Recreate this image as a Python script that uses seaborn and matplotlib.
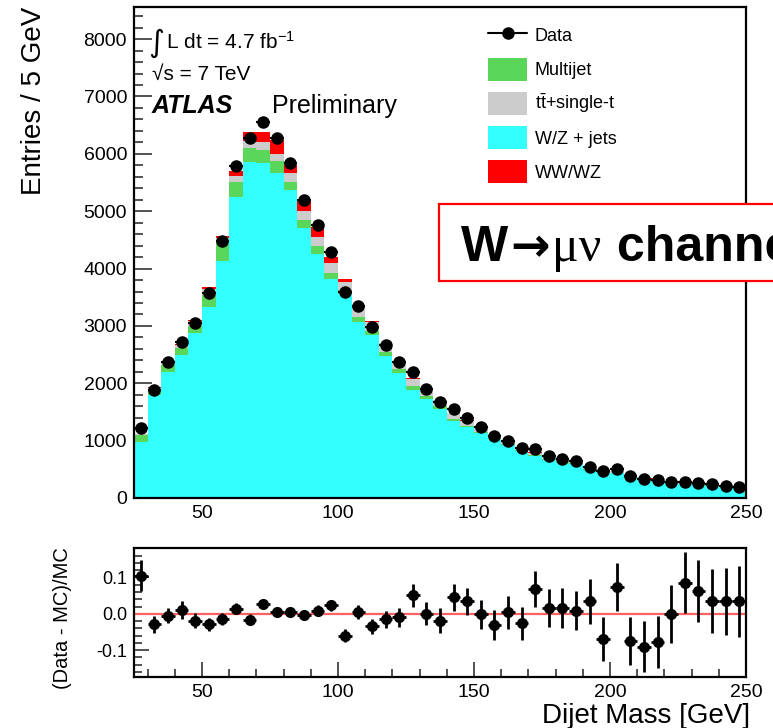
import numpy as np
import pandas as pd
import matplotlib
matplotlib.use("Agg")
import matplotlib.pyplot as plt
import seaborn as sns
from matplotlib.lines import Line2D
from matplotlib.patches import Patch, Rectangle
from matplotlib.ticker import MultipleLocator, FormatStrFormatter

# ---------------- data ----------------
bin_centers = np.arange(27.5, 250, 5)

data_counts = [1220, 1880, 2370, 2720, 3050, 3570, 4480, 5780, 6270, 6550,
               6270, 5840, 5190, 4760, 4290, 3590, 3340, 2980, 2670, 2370,
               2200, 1900, 1680, 1550, 1400, 1230, 1085, 1000, 870, 850,
               730, 675, 645, 545, 476, 500, 385, 330, 315, 285,
               285, 267, 240, 210, 197]

wz_jets = [980, 1790, 2200, 2490, 2880, 3330, 4135, 5240, 5850, 5840,
           5670, 5370, 4700, 4260, 3810, 3560, 3070, 2840, 2474, 2175,
           1885, 1720, 1560, 1345, 1230, 1130, 1030, 920, 825, 735,
           665, 615, 593, 490, 475, 433, 387, 338, 317, 265,
           245, 234, 216, 189, 177]

multijet = [118, 95, 115, 120, 120, 210, 330, 270, 250, 220,
            210, 145, 140, 130, 115, 60, 80, 75, 76, 70,
            65, 60, 45, 35, 30, 25, 22, 18, 18, 16,
            14, 12, 12, 10, 10, 9, 8, 7, 7, 6,
            5, 5, 5, 4, 4]

top_single = [10, 40, 50, 60, 80, 100, 70, 110, 125, 140,
              125, 150, 165, 160, 165, 150, 160, 155, 145, 130,
              130, 110, 95, 95, 85, 68, 60, 52, 45, 40,
              35, 33, 30, 24, 23, 21, 19, 16, 15, 12,
              11, 10, 9, 8, 7]

diboson = [2, 10, 15, 20, 30, 40, 30, 80, 150, 180,
           240, 140, 200, 170, 105, 55, 15, 18, 15, 20,
           13, 10, 12, 8, 9, 8, 8, 6, 5, 4,
           4, 4, 4, 3, 3, 3, 2, 2, 2, 2,
           2, 2, 2, 2, 2]

ratio = [0.105, -0.029, -0.005, 0.011, -0.019, -0.029, -0.014, 0.014, -0.017, 0.027,
         0.004, 0.006, -0.003, 0.008, 0.023, -0.061, 0.005, -0.035, -0.015, -0.010,
         0.051, 0.000, -0.019, 0.045, 0.034, -0.001, -0.031, 0.004, -0.026, 0.069,
         0.016, 0.016, 0.009, 0.034, -0.069, 0.074, -0.074, -0.091, -0.077, 0.000,
         0.085, 0.062, 0.036, 0.034, 0.034]

ratio_err = [0.042, 0.023, 0.020, 0.025, 0.020, 0.018, 0.017, 0.016, 0.015, 0.012,
             0.014, 0.012, 0.014, 0.015, 0.016, 0.018, 0.020, 0.020, 0.024, 0.026,
             0.031, 0.032, 0.034, 0.037, 0.038, 0.040, 0.041, 0.045, 0.046, 0.050,
             0.052, 0.055, 0.054, 0.061, 0.061, 0.066, 0.066, 0.070, 0.072, 0.080,
             0.084, 0.085, 0.088, 0.093, 0.097]

process_names = ["WW/WZ", "ttbar+single-t", "Multijet", "W/Z + jets"]  # top -> bottom
process_values = [diboson, top_single, multijet, wz_jets]
process_colors = {"WW/WZ": "#ff0000", "ttbar+single-t": "#cccccc",
                  "Multijet": "#5ad65a", "W/Z + jets": "#33ffff"}

df = pd.DataFrame({
    "mass": np.tile(bin_centers, len(process_names)),
    "weight": np.concatenate([np.asarray(v, float) for v in process_values]),
    "process": np.repeat(process_names, len(bin_centers)),
})

# ---------------- style ----------------
sns.set_style("ticks")
plt.rcParams["font.family"] = ["Liberation Sans", "DejaVu Sans"]
plt.rcParams["mathtext.fontset"] = "custom"
plt.rcParams["mathtext.rm"] = "Liberation Sans"
plt.rcParams["mathtext.it"] = "Liberation Sans:italic"
plt.rcParams["mathtext.bf"] = "Liberation Sans:bold"
plt.rcParams["mathtext.default"] = "regular"
for key in ["text.color", "axes.labelcolor", "xtick.color", "ytick.color",
            "axes.edgecolor"]:
    plt.rcParams[key] = "black"

W, H = 773, 728
fig = plt.figure(figsize=(W / 100, H / 100), dpi=100)
ax = fig.add_axes([134 / W, 1 - 498 / H, (746 - 134) / W, (498 - 7) / H])
rax = fig.add_axes([134 / W, 1 - 677 / H, (746 - 134) / W, (677 - 548) / H])

# ---------------- main panel ----------------
sns.histplot(data=df, x="mass", weights="weight", hue="process",
             hue_order=process_names, palette=process_colors,
             multiple="stack", binwidth=5, binrange=(25, 250),
             element="step", fill=True,
             linewidth=0, alpha=1, legend=False, ax=ax)
ax.errorbar(bin_centers, data_counts, xerr=2.5, fmt="o", color="black",
            ms=8, elinewidth=1.5, capsize=0, zorder=5)

ax.set_xlim(25, 250)
ax.set_ylim(0, 8560)
ax.set_xlabel("")
ax.set_ylabel("")
ax.set_axisbelow(True)
ax.xaxis.set_major_locator(MultipleLocator(50))
ax.xaxis.set_minor_locator(MultipleLocator(10))
ax.yaxis.set_major_locator(MultipleLocator(1000))
ax.yaxis.set_minor_locator(MultipleLocator(200))
ax.tick_params(which="both", direction="in", top=False, right=False,
               labelsize=14, width=1.2, color="#333333", labelcolor="black")
ax.tick_params(which="major", length=13, pad=5)
ax.tick_params(which="minor", length=6.5)
for s in ax.spines.values():
    s.set_linewidth(1.6)
    s.set_color("black")

# ---------------- ratio panel ----------------
rax.axhline(0, color="#ff6060", lw=1.6, zorder=1)
rax.errorbar(bin_centers, ratio, xerr=2.5, yerr=ratio_err, fmt="o",
             color="black", ms=7, elinewidth=2, capsize=0, zorder=5)
rax.set_xlim(25, 250)
rax.set_ylim(-0.174, 0.181)
rax.xaxis.set_major_locator(MultipleLocator(50))
rax.xaxis.set_minor_locator(MultipleLocator(10))
rax.yaxis.set_major_locator(MultipleLocator(0.1))
rax.yaxis.set_minor_locator(MultipleLocator(0.02))
rax.yaxis.set_major_formatter(FormatStrFormatter("%.1f"))
rax.tick_params(which="both", direction="in", top=False, right=False,
                width=1.2, color="#333333", labelcolor="black")
rax.tick_params(axis="x", labelsize=14)
rax.tick_params(axis="y", labelsize=13)
rax.tick_params(which="major", length=11, pad=5)
rax.tick_params(which="minor", length=5.5)
for s in rax.spines.values():
    s.set_linewidth(1.6)
    s.set_color("black")

# ---------------- axis titles ----------------
fig.text(34 / W, 1 - 7 / H, "Entries / 5 GeV", rotation=90, ha="center",
         va="top", fontsize=20)
fig.text(63 / W, 1 - 547 / H, "(Data - MC)/MC", rotation=90, ha="center",
         va="top", fontsize=14.5)
fig.text(750 / W, 1 - 723 / H, "Dijet Mass [GeV]", ha="right",
         va="baseline", fontsize=20)

# ---------------- ATLAS labels ----------------
fig.text(148 / W, 1 - 52 / H, "\u222b", fontsize=22, family="DejaVu Sans",
         va="baseline")
fig.text(166 / W, 1 - 49 / H, "L dt = 4.7 fb$^{-1}$", fontsize=15,
         va="baseline")
fig.text(152 / W, 1 - 80 / H, "\u221as = 7 TeV", fontsize=15,
         va="baseline")
fig.text(152 / W, 1 - 113 / H, "ATLAS", fontsize=18, weight="bold",
         style="italic", va="baseline")
fig.text(272 / W, 1 - 113 / H, "Preliminary", fontsize=18, va="baseline")

# ---------------- legend ----------------
handles = [Line2D([], [], color="black", marker="o", ms=8, lw=1.5),
           Patch(facecolor=process_colors["Multijet"], edgecolor="none"),
           Patch(facecolor=process_colors["ttbar+single-t"], edgecolor="none"),
           Patch(facecolor=process_colors["W/Z + jets"], edgecolor="none"),
           Patch(facecolor=process_colors["WW/WZ"], edgecolor="none")]
labels = ["Data", "Multijet", "t$\\bar{t}$+single-t", "W/Z + jets", "WW/WZ"]
fig.legend(handles, labels, loc="upper left",
           bbox_to_anchor=(488 / W, 1 - 24 / H), frameon=False,
           fontsize=13, handlelength=2.16, handleheight=1.58,
           labelspacing=0.61, handletextpad=0.44, borderpad=0,
           borderaxespad=0)

# ---------------- channel box ----------------
box = Rectangle((439 / W, 1 - 281 / H), (820 - 439) / W, (281 - 204) / H,
                transform=fig.transFigure, facecolor="white",
                edgecolor="#ff0000", lw=1.6, zorder=10, clip_on=False)
fig.add_artist(box)

renderer = fig.canvas.get_renderer()
ybase = 1 - 261 / H
x = 461
pieces = [("W", dict(weight="bold", family=["Liberation Sans"], fontsize=36)),
          ("\u2192", dict(weight="bold", family=["DejaVu Sans"], fontsize=34)),
          ("\u03bc\u03bd", dict(family=["Liberation Serif"], fontsize=36)),
          (" channel", dict(weight="bold", family=["Liberation Sans"], fontsize=36))]
for txt, kw in pieces:
    t = fig.text(x / W, ybase, txt, va="baseline", ha="left", zorder=11,
                 color="black", **kw)
    bb = t.get_window_extent(renderer)
    x = bb.x1 + 2

fig.savefig("out.png", dpi=100)
